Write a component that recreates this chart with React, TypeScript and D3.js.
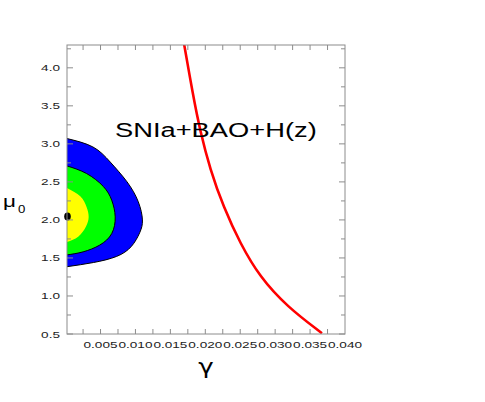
import React from "react";
import * as d3 from "d3";

// contour boundaries: [gamma, mu0]
const blueContour: [number, number][] = [
  [0.0002, 3.07], [0.0039, 2.96], [0.0064, 2.76], [0.0088, 2.5], [0.0104, 2.24],
  [0.011, 2.0], [0.0106, 1.83], [0.0094, 1.65], [0.0073, 1.52], [0.004, 1.44], [0.0002, 1.385],
];
const greenContour: [number, number][] = [
  [0.0002, 2.71], [0.003, 2.61], [0.0054, 2.44], [0.0066, 2.26], [0.0071, 2.04],
  [0.0066, 1.82], [0.0049, 1.67], [0.0025, 1.58], [0.0002, 1.54],
];
const yellowContour: [number, number][] = [
  [0.0002, 2.42], [0.0021, 2.31], [0.003, 2.17], [0.0033, 2.04], [0.0029, 1.91],
  [0.0018, 1.78], [0.0002, 1.71],
];
const bestFit: [number, number] = [0.0002, 2.045];
const redCurve: [number, number][] = [
  [0.0167, 4.45], [0.01828, 3.62], [0.01924, 3.18], [0.0207, 2.66], [0.0226, 2.17],
  [0.025, 1.69], [0.0278, 1.25], [0.0317, 0.86], [0.0367, 0.51],
];
const xTickLabels = ["0.005", "0.010", "0.015", "0.020", "0.025", "0.030", "0.035", "0.040"];
const yTickLabels = ["0.5", "1.0", "1.5", "2.0", "2.5", "3.0", "3.5", "4.0"];
const xMinorTicks = [0.0025, 0.005, 0.0075, 0.01, 0.0125, 0.015, 0.0175, 0.02, 0.0225, 0.025, 0.0275, 0.03, 0.0325, 0.035, 0.0375];
const yMinorTicks = [0.75, 1.25, 1.75, 2.25, 2.75, 3.25, 3.75, 4.25];
const title = "SNIa+BAO+H(z)";

const L = 67, R = 345, T = 45, B = 334;
const SX = 1.43;

export default function App() {
  const x = d3.scaleLinear().domain([0.0002, 0.04]).range([L, R]);
  const y = d3.scaleLinear().domain([0.5, 4.3]).range([B, T]);
  const line = d3.line<[number, number]>().x(d => x(d[0])).y(d => y(d[1])).curve(d3.curveNatural);
  const redLine = d3.line<[number, number]>().x(d => x(d[0])).y(d => y(d[1])).curve(d3.curveBasis);
  const frameColor = "#8c8c8c";
  const font = "Liberation Sans, Arial, Helvetica, sans-serif";
  const ytickVals = yTickLabels.map(Number);
  const xtickVals = xTickLabels.map(Number);
  return (
    <svg width={485} height={402} style={{ position: "absolute", left: 0, top: 0, background: "#fff" }} fontFamily={font}>
      <defs>
        <clipPath id="plot"><rect x={L} y={T} width={R - L} height={B - T} /></clipPath>
      </defs>
      <g clipPath="url(#plot)">
        <path d={line(blueContour) + "Z"} fill="#0000ff" />
        <path d={line(greenContour) + "Z"} fill="#00ff00" />
        <path d={line(yellowContour) + "Z"} fill="#ffff00" />
        <path d={line(blueContour) || ""} fill="none" stroke="#000" strokeWidth={1} />
        <path d={line(greenContour) || ""} fill="none" stroke="#000" strokeWidth={1} />
        <path d={redLine(redCurve) || ""} fill="none" stroke="#ff0000" strokeWidth={2.6} />
      </g>
      <ellipse cx={x(bestFit[0]) + 0.5} cy={y(bestFit[1])} rx={3.3} ry={4} fill="#000" />
      {/* frame */}
      <rect x={L} y={T} width={R - L} height={B - T} fill="none" stroke={frameColor} strokeWidth={1} />
      {/* y ticks */}
      {ytickVals.map((v, i) => (
        <g key={"yt" + i}>
          <line x1={L} x2={L + 6} y1={y(v)} y2={y(v)} stroke={frameColor} />
          <line x1={R} x2={R - 6} y1={y(v)} y2={y(v)} stroke={frameColor} />
          <g transform={`translate(60,${y(v) + 3.5}) scale(${SX},1)`}>
            <text textAnchor="end" fontSize={9.5} fill="#222">{yTickLabels[i]}</text>
          </g>
        </g>
      ))}
      {yMinorTicks.map((v, i) => (
        <g key={"ym" + i}>
          <line x1={L} x2={L + 4} y1={y(v)} y2={y(v)} stroke={frameColor} />
          <line x1={R} x2={R - 4} y1={y(v)} y2={y(v)} stroke={frameColor} />
        </g>
      ))}
      {xMinorTicks.map((v, i) => (
        <g key={"xm" + i}>
          <line x1={x(v)} x2={x(v)} y1={B} y2={B - 5} stroke={frameColor} />
          <line x1={x(v)} x2={x(v)} y1={T} y2={T + 5} stroke={frameColor} />
        </g>
      ))}
      {xtickVals.map((v, i) => (
        <g key={"xl" + i} transform={`translate(${x(v)},348) scale(${SX},1)`}>
          <text textAnchor="middle" fontSize={9.5} fill="#222">{xTickLabels[i]}</text>
        </g>
      ))}
      {/* title */}
      <g transform={`translate(115,137) scale(1.4,1)`}>
        <text fontSize={19.5} fill="#000">{title}</text>
      </g>
      {/* axis labels */}
      <g transform={`translate(3,206.5) scale(1.4,1)`}>
        <text fontSize={16} fill="#000">μ</text>
      </g>
      <g transform={`translate(18,213) scale(1.2,1)`}>
        <text fontSize={11} fill="#000">0</text>
      </g>
      <g transform={`translate(206,374) scale(1.25,1)`}>
        <text fontSize={21} textAnchor="middle" fill="#000" fontFamily="DejaVu Sans, sans-serif">γ</text>
      </g>
    </svg>
  );
}
